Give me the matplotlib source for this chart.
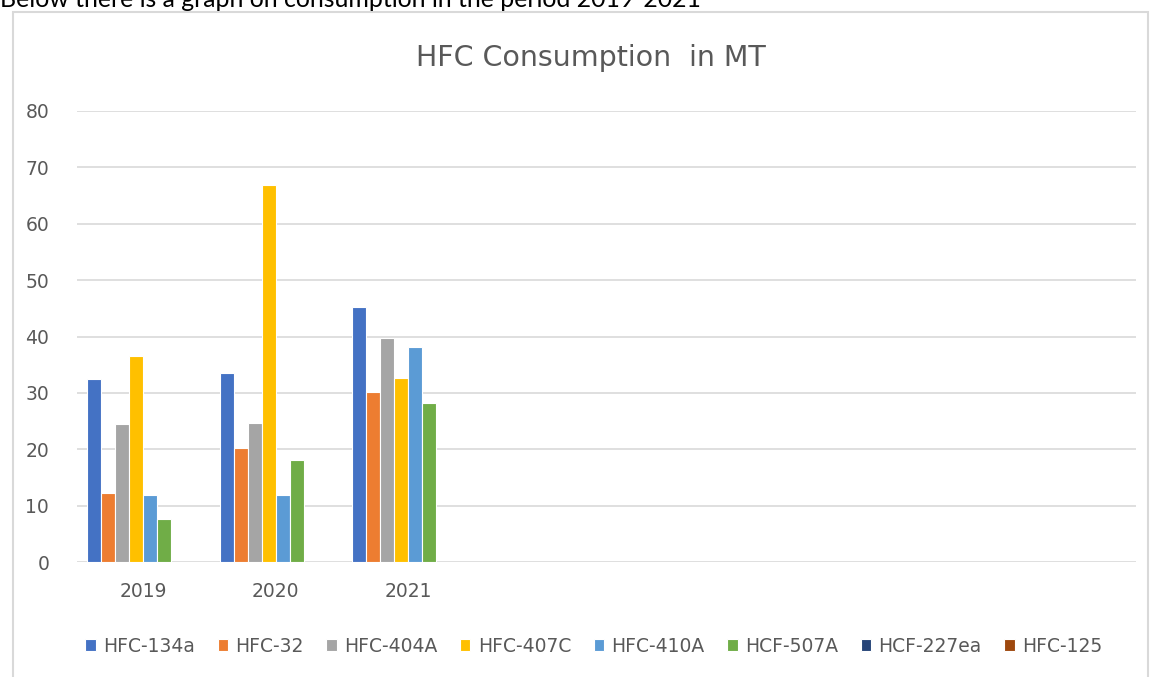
import numpy as np
import matplotlib.pyplot as plt
from matplotlib.patches import Rectangle

plt.rcParams['font.family'] = ['DejaVu Sans']

years = ['2019', '2020', '2021', '', '', '', '', '']
series = ['HFC-134a', 'HFC-32', 'HFC-404A', 'HFC-407C', 'HFC-410A',
          'HCF-507A', 'HCF-227ea', 'HFC-125']
hfc_134a = [32.4, 33.6, 45.2]
hfc_32 = [12.2, 20.2, 30.2]
hfc_404a = [24.5, 24.7, 39.7]
hfc_407c = [36.5, 66.8, 32.7]
hfc_410a = [12.0, 12.0, 38.1]
hcf_507a = [7.7, 18.1, 28.2]
hcf_227ea = [np.nan, np.nan, np.nan]
hfc_125 = [np.nan, np.nan, np.nan]
colors = ['#4472c4', '#ed7d31', '#a5a5a5', '#ffc000', '#5b9bd5',
          '#70ad47', '#264478', '#9e480e']

values = [hfc_134a, hfc_32, hfc_404a, hfc_407c, hfc_410a, hcf_507a,
          hcf_227ea, hfc_125]

fig = plt.figure(figsize=(11.51, 6.77), dpi=100)
ax = fig.add_axes([0.0669, 0.1694, 0.9201, 0.667])

x = np.arange(len(years))
slot = 0.845 / len(series)
for i, (name, vals) in enumerate(zip(series, values)):
    v = np.full(len(years), np.nan)
    v[:len(vals)] = vals
    ax.bar(x - 0.845 / 2 + slot * (i + 0.5), v, width=slot,
           color=colors[i], edgecolor='white', linewidth=0.8, label=name,
           zorder=3)

ax.set_xlim(-0.5, len(years) - 0.5)
ax.set_ylim(0, 80)
ax.set_yticks(range(0, 81, 10))
ax.set_xticks(x)
ax.set_xticklabels(years)
ax.yaxis.grid(True, color='#d9d9d9', linewidth=1.2, zorder=0)
ax.tick_params(length=0, labelsize=13.5, labelcolor='#595959')
ax.tick_params(axis='y', pad=20)
ax.tick_params(axis='x', pad=14)
for s in ax.spines.values():
    s.set_visible(False)

fig.text(0.513, 1 - 58 / 677, 'HFC Consumption  in MT', ha='center',
         va='center', fontsize=20.5, color='#595959')

fig.legend(loc='center', bbox_to_anchor=(0.516, 1 - 646 / 677), ncol=8,
           frameon=False, fontsize=13.5, labelcolor='#595959',
           handlelength=0.55, handleheight=0.55, handletextpad=0.4,
           columnspacing=1.2)

fig.patches.append(Rectangle((13 / 1151, -0.05), 1135 / 1151, 1.05 - 12 / 677,
                             transform=fig.transFigure, fill=False,
                             edgecolor='#d9d9d9', linewidth=1.5))

note = fig.text(0.0, 1 - 7 / 677,
                'Below there is a graph on consumption in the period 2019-2021',
                ha='left', va='baseline', fontsize=15, family='Lato')
# scale note so it ends where the reference does
r = fig.canvas.get_renderer()
w = note.get_window_extent(r).width
note.set_fontsize(15 * 702 / w)

fig.savefig('out.png', dpi=100)
